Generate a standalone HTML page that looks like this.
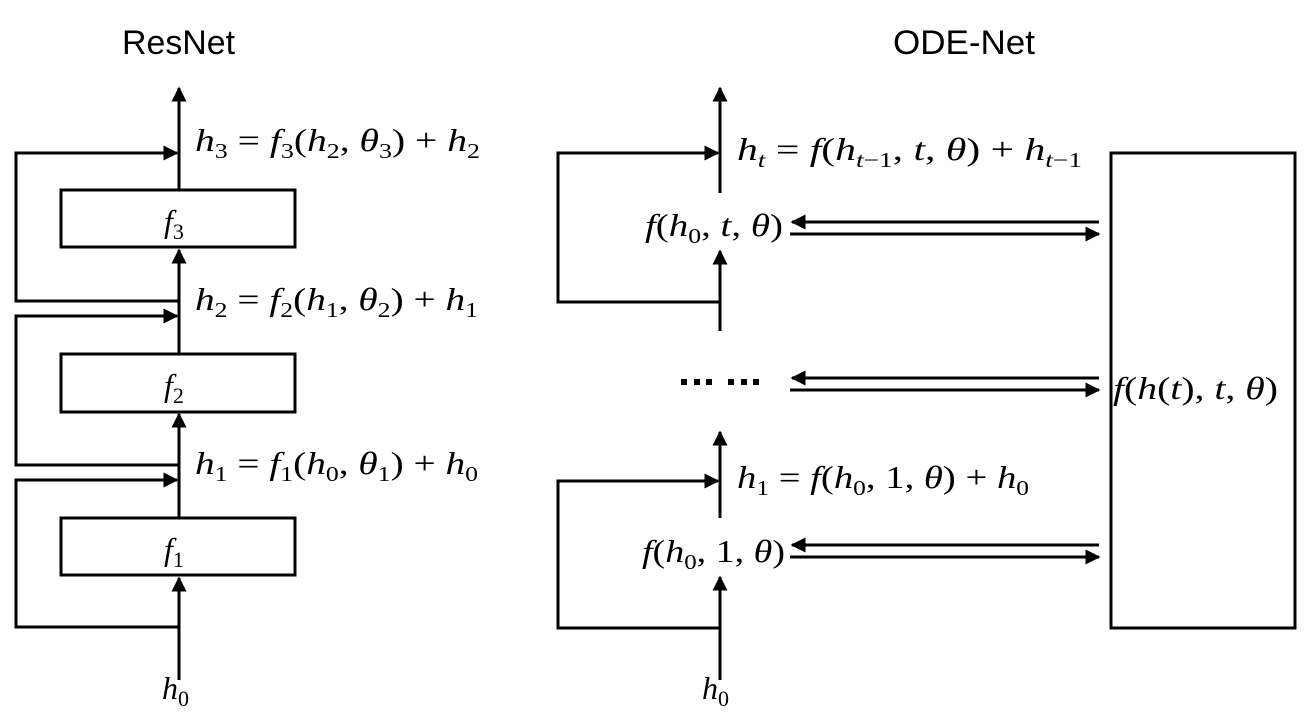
<!DOCTYPE html>
<html><head><meta charset="utf-8"><style>
html,body{margin:0;padding:0;background:#fff;}
svg{display:block;}
.t{font-family:"Liberation Sans",sans-serif;font-size:34px;}
.m{font-family:"Liberation Serif",serif;font-size:32px;font-style:italic;}
.n{font-style:normal;}
</style></head><body>
<svg width="1305" height="717" viewBox="0 0 1305 717" xmlns="http://www.w3.org/2000/svg">
<defs>
<marker id="a" markerWidth="5" markerHeight="5" refX="4.5" refY="2.5" orient="auto" markerUnits="strokeWidth">
<path d="M0,0 L5,2.5 L0,5 Z" fill="#000"/></marker>
</defs>
<g fill="none" stroke="#000" stroke-width="3">
<line x1="179" y1="680" x2="179" y2="578" marker-end="url(#a)"/>
<line x1="179" y1="517" x2="179" y2="414" marker-end="url(#a)"/>
<line x1="179" y1="353" x2="179" y2="250" marker-end="url(#a)"/>
<line x1="179" y1="189" x2="179" y2="88" marker-end="url(#a)"/>
<rect x="61" y="190" width="234" height="57"/>
<rect x="61" y="354" width="234" height="58"/>
<rect x="61" y="518" width="234" height="57"/>
<polyline points="179,301 16,301 16,153 177,153" marker-end="url(#a)"/>
<polyline points="179,465 16,465 16,316 177,316" marker-end="url(#a)"/>
<polyline points="179,627 16,627 16,480 177,480" marker-end="url(#a)"/>
<line x1="720" y1="193" x2="720" y2="88" marker-end="url(#a)"/>
<polyline points="720,302 558,302 558,153 718,153" marker-end="url(#a)"/>
<line x1="720" y1="331" x2="720" y2="251" marker-end="url(#a)"/>
<line x1="720" y1="518" x2="720" y2="432" marker-end="url(#a)"/>
<polyline points="720,628 558,628 558,481 718,481" marker-end="url(#a)"/>
<line x1="720" y1="680" x2="720" y2="577" marker-end="url(#a)"/>
<rect x="1111" y="153" width="184" height="475"/>
<line x1="1099" y1="222" x2="792" y2="222" marker-end="url(#a)"/>
<line x1="790" y1="234" x2="1099" y2="234" marker-end="url(#a)"/>
<line x1="1099" y1="378" x2="792" y2="378" marker-end="url(#a)"/>
<line x1="790" y1="390" x2="1099" y2="390" marker-end="url(#a)"/>
<line x1="1099" y1="545" x2="792" y2="545" marker-end="url(#a)"/>
<line x1="790" y1="557" x2="1099" y2="557" marker-end="url(#a)"/>
</g>
<g fill="#000">
<rect x="681" y="379" width="6" height="6"/><rect x="694" y="379" width="6" height="6"/><rect x="706" y="379" width="6" height="6"/>
<rect x="728" y="379" width="6" height="6"/><rect x="741" y="379" width="6" height="6"/><rect x="753" y="379" width="6" height="6"/>
</g>
<text class="t" x="122" y="54" textLength="113" lengthAdjust="spacingAndGlyphs">ResNet</text>
<text class="t" x="893" y="54" textLength="142" lengthAdjust="spacingAndGlyphs">ODE-Net</text>

<text class="m" x="195" y="151" textLength="285" lengthAdjust="spacingAndGlyphs">h<tspan class="n" font-size="21" dy="7">3</tspan><tspan class="n" dy="-7"> = </tspan>f<tspan class="n" font-size="21" dy="7">3</tspan><tspan class="n" dy="-7">(</tspan>h<tspan class="n" font-size="21" dy="7">2</tspan><tspan class="n" dy="-7">, </tspan>θ<tspan class="n" font-size="21" dy="7">3</tspan><tspan class="n" dy="-7">) + </tspan>h<tspan class="n" font-size="21" dy="7">2</tspan></text>
<text class="m" x="195" y="310" textLength="283" lengthAdjust="spacingAndGlyphs">h<tspan class="n" font-size="21" dy="7">2</tspan><tspan class="n" dy="-7"> = </tspan>f<tspan class="n" font-size="21" dy="7">2</tspan><tspan class="n" dy="-7">(</tspan>h<tspan class="n" font-size="21" dy="7">1</tspan><tspan class="n" dy="-7">, </tspan>θ<tspan class="n" font-size="21" dy="7">2</tspan><tspan class="n" dy="-7">) + </tspan>h<tspan class="n" font-size="21" dy="7">1</tspan></text>
<text class="m" x="195" y="474" textLength="283" lengthAdjust="spacingAndGlyphs">h<tspan class="n" font-size="21" dy="7">1</tspan><tspan class="n" dy="-7"> = </tspan>f<tspan class="n" font-size="21" dy="7">1</tspan><tspan class="n" dy="-7">(</tspan>h<tspan class="n" font-size="21" dy="7">0</tspan><tspan class="n" dy="-7">, </tspan>θ<tspan class="n" font-size="21" dy="7">1</tspan><tspan class="n" dy="-7">) + </tspan>h<tspan class="n" font-size="21" dy="7">0</tspan></text>
<text class="m" x="164" y="232" font-size="34">f<tspan class="n" font-size="22" dy="7">3</tspan></text>
<text class="m" x="164" y="396" font-size="34">f<tspan class="n" font-size="22" dy="7">2</tspan></text>
<text class="m" x="164" y="560" font-size="34">f<tspan class="n" font-size="22" dy="7">1</tspan></text>
<text class="m" x="162" y="699" font-size="34">h<tspan class="n" font-size="22" dy="7">0</tspan></text>

<text class="m" x="737" y="160" textLength="345" lengthAdjust="spacingAndGlyphs">h<tspan font-size="21" dy="7">t</tspan><tspan class="n" dy="-7"> = </tspan>f<tspan class="n">(</tspan>h<tspan font-size="21" dy="7">t</tspan><tspan class="n" font-size="21">−1</tspan><tspan class="n" dy="-7">, </tspan>t<tspan class="n">, </tspan>θ<tspan class="n">) + </tspan>h<tspan font-size="21" dy="7">t</tspan><tspan class="n" font-size="21">−1</tspan></text>
<text class="m" x="645" y="236" textLength="138" lengthAdjust="spacingAndGlyphs">f<tspan class="n">(</tspan>h<tspan class="n" font-size="21" dy="7">0</tspan><tspan class="n" dy="-7">, </tspan>t<tspan class="n">, </tspan>θ<tspan class="n">)</tspan></text>
<text class="m" x="737" y="488" textLength="292" lengthAdjust="spacingAndGlyphs">h<tspan class="n" font-size="21" dy="7">1</tspan><tspan class="n" dy="-7"> = </tspan>f<tspan class="n">(</tspan>h<tspan class="n" font-size="21" dy="7">0</tspan><tspan class="n" dy="-7">, 1, </tspan>θ<tspan class="n">) + </tspan>h<tspan class="n" font-size="21" dy="7">0</tspan></text>
<text class="m" x="642" y="562" textLength="143" lengthAdjust="spacingAndGlyphs">f<tspan class="n">(</tspan>h<tspan class="n" font-size="21" dy="7">0</tspan><tspan class="n" dy="-7">, 1, </tspan>θ<tspan class="n">)</tspan></text>
<text class="m" x="1113" y="399" textLength="165" lengthAdjust="spacingAndGlyphs">f<tspan class="n">(</tspan>h<tspan class="n">(</tspan>t<tspan class="n">), </tspan>t<tspan class="n">, </tspan>θ<tspan class="n">)</tspan></text>
<text class="m" x="702" y="699" font-size="34">h<tspan class="n" font-size="22" dy="7">0</tspan></text>
</svg>
</body></html>
